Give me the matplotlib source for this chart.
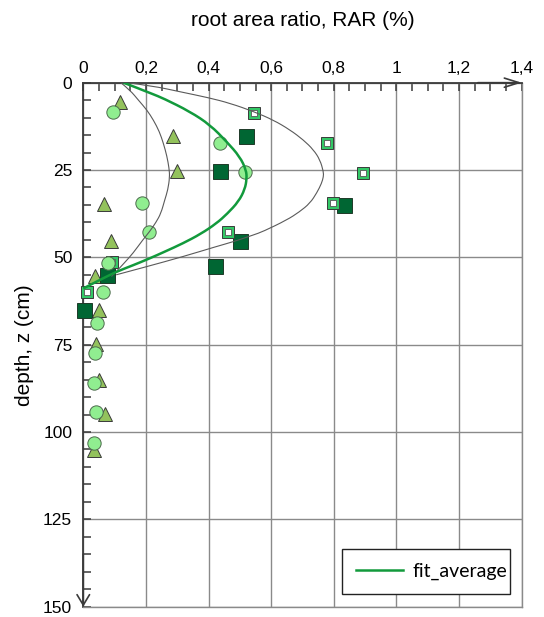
import matplotlib.pyplot as plt
from matplotlib.ticker import MultipleLocator, FixedLocator
from matplotlib.path import Path
from matplotlib.patches import PathPatch
from matplotlib.lines import Line2D

plt.rcParams['font.family'] = ['Liberation Sans', 'DejaVu Sans']

# measured points, RAR (%) against depth (cm)
tri_rar = [0.117, 0.285, 0.298, 0.067, 0.087, 0.038, 0.051, 0.041, 0.051, 0.069, 0.035]
tri_z = [5.4, 15.3, 25.2, 34.7, 45.3, 55.2, 65.1, 74.9, 85.1, 94.7, 105.2]

circ_rar = [0.096, 0.437, 0.516, 0.187, 0.211, 0.080, 0.064, 0.045, 0.037, 0.035, 0.041, 0.034]
circ_z = [8.5, 17.4, 25.7, 34.5, 42.8, 51.5, 59.8, 68.7, 77.5, 85.9, 94.2, 103.1]

dark_rar = [0.519, 0.437, 0.834, 0.500, 0.421, 0.075, 0.002]
dark_z = [15.3, 25.2, 35.0, 45.2, 52.4, 55.1, 65.1]

hollow_rar = [0.546, 0.777, 0.893, 0.798, 0.461, 0.091, 0.011]
hollow_z = [8.6, 17.4, 25.8, 34.5, 42.7, 51.2, 60.0]

# fitted curves
fit_rar = [0.128, 0.158, 0.186, 0.220, 0.256, 0.341, 0.405, 0.458, 0.500, 0.520, 0.522,
           0.516, 0.496, 0.460, 0.425, 0.375, 0.318, 0.262, 0.212, 0.158, 0.106, 0.052, 0.0]
fit_z = [0.0, 1.0, 2.0, 3.2, 4.5, 8.3, 12.1, 16.9, 21.2, 25.0, 27.5,
         30.5, 34.0, 37.5, 40.3, 43.3, 46.0, 48.3, 50.3, 52.3, 54.1, 56.5, 58.9]

low_rar = [0.120, 0.150, 0.176, 0.203, 0.224, 0.243, 0.256, 0.267, 0.274, 0.276, 0.270,
           0.260, 0.248, 0.232, 0.212, 0.190, 0.159, 0.132, 0.105, 0.090]
low_z = [0.0, 2.2, 5.0, 7.8, 10.7, 14.0, 17.4, 21.0, 24.5, 27.0, 30.7,
         33.6, 37.4, 40.0, 42.6, 45.0, 48.8, 51.5, 54.1, 55.5]

high_rar = [0.139, 0.220, 0.309, 0.400, 0.469, 0.545, 0.607, 0.660, 0.703, 0.735, 0.756,
            0.767, 0.767, 0.761, 0.746, 0.724, 0.690, 0.650, 0.574, 0.543, 0.480, 0.425,
            0.318, 0.201, 0.105]
high_z = [0.0, 0.9, 2.6, 4.3, 5.9, 8.3, 10.7, 13.5, 16.4, 19.2, 22.1,
          25.5, 26.9, 28.8, 31.5, 34.5, 37.0, 39.3, 42.6, 43.6, 45.5, 46.9,
          49.8, 52.7, 55.0]

x_ticks = [0, 0.2, 0.4, 0.6, 0.8, 1.0, 1.2, 1.4]
x_labels = ['0', '0,2', '0,4', '0,6', '0,8', '1', '1,2', '1,4']
y_ticks = [0, 25, 50, 75, 100, 125, 150]


def smooth_curve(ax, xs, ys, **kw):
    # quadratic bezier through the read points (points act as control points)
    verts = [(xs[0], ys[0])]
    codes = [Path.MOVETO]
    n = len(xs)
    for i in range(1, n - 1):
        mid = ((xs[i] + xs[i + 1]) / 2, (ys[i] + ys[i + 1]) / 2)
        if i == n - 2:
            mid = (xs[-1], ys[-1])
        verts += [(xs[i], ys[i]), mid]
        codes += [Path.CURVE3, Path.CURVE3]
    ax.add_patch(PathPatch(Path(verts, codes), fill=False, **kw))


fig = plt.figure(figsize=(5.44, 6.17), dpi=100)
ax = fig.add_axes([0.1531, 0.0167, 0.8059, 0.8493])

ax.set_xlim(0, 1.4)
ax.set_ylim(150, 0)

edge = '#3a3a3a'
ax.plot(tri_rar, tri_z, ls='none', marker='^', ms=9.6, mfc='#93c25c', mec=edge, mew=0.7,
        zorder=3, clip_on=False)
ax.plot(dark_rar, dark_z, ls='none', marker='s', ms=10.8, mfc='#006633', mec='#1e3a28', mew=0.7,
        zorder=4, clip_on=False)
ax.plot(hollow_rar, hollow_z, ls='none', marker='s', ms=9.1, mfc='#33c866', mec=edge, mew=0.7,
        zorder=5, clip_on=False)
ax.plot(hollow_rar, hollow_z, ls='none', marker='s', ms=4.3, mfc='white', mec='#555555', mew=0.6,
        zorder=5, clip_on=False)
ax.plot(circ_rar, circ_z, ls='none', marker='o', ms=9.6, mfc='#90ee90', mec='#4d6b4d', mew=0.7,
        zorder=6, clip_on=False)

smooth_curve(ax, low_rar, low_z, edgecolor='#5a5a5a', lw=0.8, zorder=7)
smooth_curve(ax, high_rar, high_z, edgecolor='#5a5a5a', lw=0.8, zorder=7)
smooth_curve(ax, fit_rar, fit_z, edgecolor='#129a3c', lw=1.8, zorder=8)

# axes: top and left, ticks inward
ax.xaxis.tick_top()
ax.xaxis.set_major_locator(FixedLocator(x_ticks))
ax.set_xticklabels(x_labels)
ax.xaxis.set_minor_locator(MultipleLocator(0.05))
ax.yaxis.set_major_locator(FixedLocator(y_ticks))
ax.yaxis.set_minor_locator(MultipleLocator(5))
ax.tick_params(which='both', direction='in', length=5.5, width=1.1, color=edge,
               labelsize=12.5, top=True, bottom=False, left=True, right=False)
ax.tick_params(axis='x', pad=5)
ax.tick_params(axis='y', pad=8)

ax.grid(True, which='major', color='#8a8a8a', lw=1.0)
ax.set_axisbelow(True)
for s in ['top', 'left']:
    ax.spines[s].set_color(edge)
    ax.spines[s].set_linewidth(1.3)
for s in ['right', 'bottom']:
    ax.spines[s].set_color('#8a8a8a')
    ax.spines[s].set_linewidth(1.0)

ax.annotate('', xy=(1.0, 1.0), xytext=(0.9, 1.0), xycoords='axes fraction',
            arrowprops=dict(arrowstyle='->,head_length=0.7,head_width=0.22', lw=1.2,
                            color=edge, mutation_scale=15, shrinkA=0, shrinkB=0),
            annotation_clip=False)
ax.annotate('', xy=(0.0, 0.0), xytext=(0.0, 0.1), xycoords='axes fraction',
            arrowprops=dict(arrowstyle='->,head_length=0.5,head_width=0.3', lw=1.2,
                            color=edge, mutation_scale=15, shrinkA=0, shrinkB=0),
            annotation_clip=False)

fig.text(0.557, 1 - 20 / 617, 'root area ratio, RAR (%)', ha='center', va='center', fontsize=15)
fig.text(25 / 544, 0.441, 'depth, z (cm)', ha='center', va='center', rotation=90, fontsize=15)

fit_handle = Line2D([], [], color='#129a3c', lw=1.8)
leg = ax.legend([fit_handle], ['fit_average'], loc='center',
                bbox_to_anchor=(0.590, 0.0237, 0.383, 0.0877), mode='expand',
                frameon=True, fancybox=False, framealpha=1, edgecolor='#222222',
                prop={'family': ['Lato', 'DejaVu Sans'], 'size': 14},
                handlelength=2.4, handletextpad=0.5, borderpad=0.72, borderaxespad=0)
leg.get_frame().set_linewidth(1.0)
leg.set_zorder(10)

fig.savefig('out.png', dpi=100)
